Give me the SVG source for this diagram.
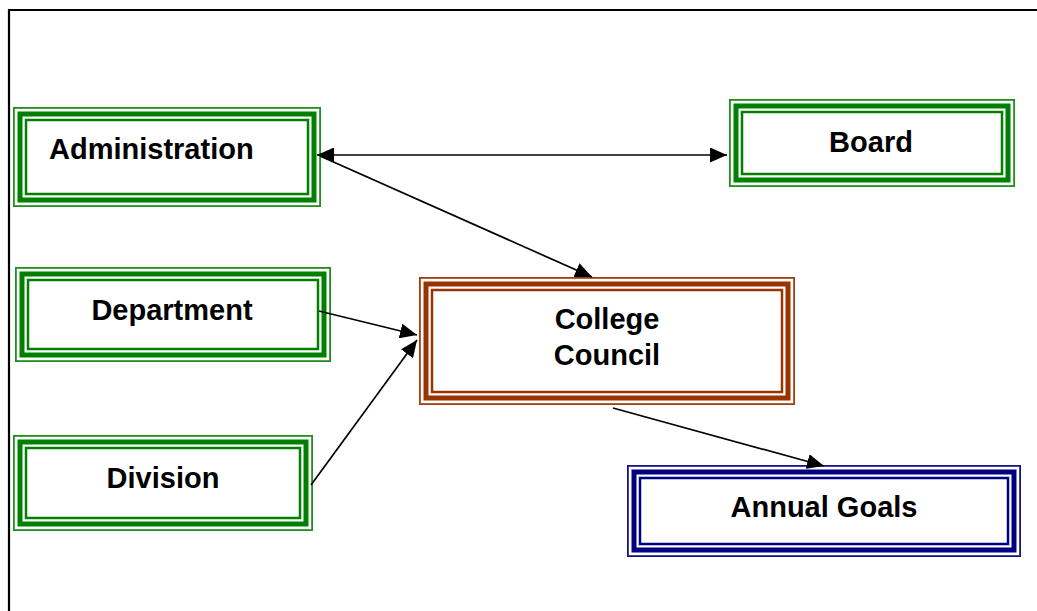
<svg xmlns="http://www.w3.org/2000/svg" width="1037" height="611" viewBox="0 0 1037 611">
  <defs>
    <marker id="arrow" markerUnits="userSpaceOnUse" markerWidth="17" markerHeight="15" refX="17" refY="7.5" orient="auto-start-reverse" viewBox="0 0 17 15">
      <path d="M0,0 L17,7.5 L0,15 z" fill="#000"/>
    </marker>
    <style>
      .o { fill: none; stroke-width: 1.8; }
      .t { fill: none; stroke-width: 5; }
      .i { fill: #fff; stroke-width: 2.5; }
      .green .o { stroke: #1f8f1f; }
      .green .t, .green .i { stroke: #008000; }
      .brown .o { stroke: #a23d0c; }
      .brown .t, .brown .i { stroke: #993300; }
      .navy .o { stroke: #151588; }
      .navy .t, .navy .i { stroke: #000080; }
      .bg { fill: #fff; }
      text { font-family: "Liberation Sans", Arial, sans-serif; font-weight: bold; font-size: 29px; fill: #000; }
      .conn line { stroke: #000; stroke-width: 1.7; marker-end: url(#arrow); }
    </style>
  </defs>
  <rect width="1037" height="611" fill="#fff"/>
  <path d="M9,611 V10 H1037" fill="none" stroke="#000" stroke-width="2.2"/>

  <g id="administration" class="green">
    <rect class="bg" x="13" y="107" width="308" height="100"/>
    <rect class="o" x="13.9" y="107.9" width="306.2" height="98.2"/>
    <rect class="t" x="20" y="114" width="294" height="86"/>
    <rect class="i" x="26" y="120" width="282" height="74"/>
    <text x="49" y="158.5">Administration</text>
  </g>

  <g id="board" class="green">
    <rect class="bg" x="729" y="99" width="286" height="88"/>
    <rect class="o" x="729.9" y="99.9" width="284.2" height="86.2"/>
    <rect class="t" x="736" y="106" width="272" height="74"/>
    <rect class="i" x="742" y="112" width="260" height="62"/>
    <text x="871" y="152" text-anchor="middle">Board</text>
  </g>

  <g id="department" class="green">
    <rect class="bg" x="15" y="267" width="316" height="95"/>
    <rect class="o" x="15.9" y="267.9" width="314.2" height="93.2"/>
    <rect class="t" x="22" y="274" width="302" height="81"/>
    <rect class="i" x="28" y="280" width="290" height="69"/>
    <text x="172" y="320" text-anchor="middle">Department</text>
  </g>

  <g id="division" class="green">
    <rect class="bg" x="13" y="435" width="300" height="96"/>
    <rect class="o" x="13.9" y="435.9" width="298.2" height="94.2"/>
    <rect class="t" x="20" y="442" width="286" height="82"/>
    <rect class="i" x="26" y="448" width="274" height="70"/>
    <text x="163" y="488" text-anchor="middle">Division</text>
  </g>

  <g id="college-council" class="brown">
    <rect class="bg" x="419" y="277" width="376" height="128"/>
    <rect class="o" x="419.9" y="277.9" width="374.2" height="126.2"/>
    <rect class="t" x="426" y="284" width="362" height="114"/>
    <rect class="i" x="432" y="290" width="350" height="102"/>
    <text x="607" y="329" text-anchor="middle">College</text>
    <text x="607" y="365" text-anchor="middle">Council</text>
  </g>

  <g id="annual-goals" class="navy">
    <rect class="bg" x="627" y="465" width="394" height="92"/>
    <rect class="o" x="627.9" y="465.9" width="392.2" height="90.2"/>
    <rect class="t" x="634" y="472" width="380" height="78"/>
    <rect class="i" x="640" y="478" width="368" height="66"/>
    <text x="824" y="517" text-anchor="middle">Annual Goals</text>
  </g>

  <g id="connectors" class="conn">
    <line x1="317" y1="155" x2="727" y2="155" marker-start="url(#arrow)"/>
    <line x1="320" y1="156" x2="592" y2="277"/>
    <line x1="319" y1="311" x2="417" y2="335"/>
    <line x1="311" y1="485" x2="417" y2="340"/>
    <line x1="613" y1="408" x2="824" y2="466"/>
  </g>
</svg>
